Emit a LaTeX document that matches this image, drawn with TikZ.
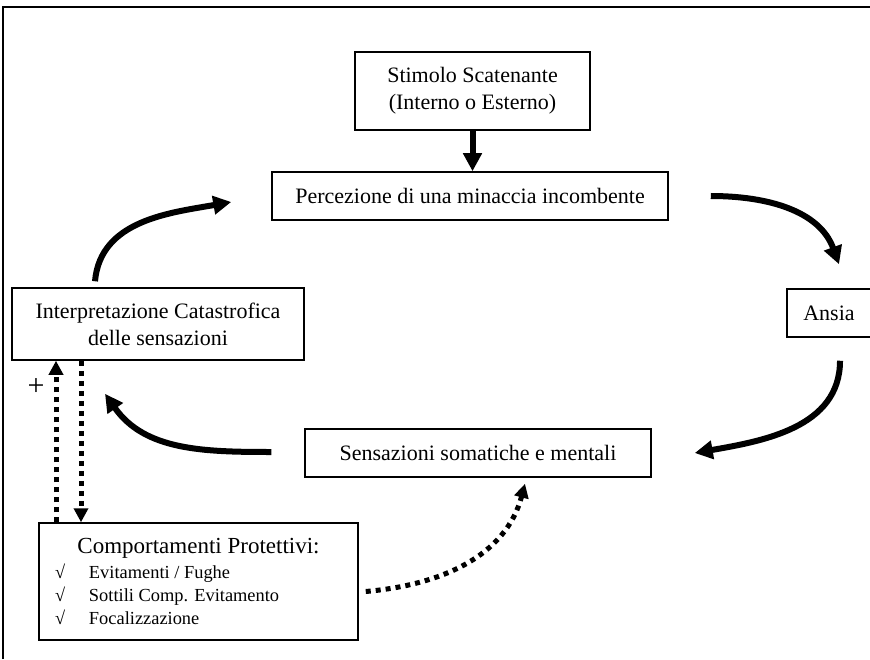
\documentclass[tikz,border=0pt]{standalone}
\usepackage{fontspec}
\setmainfont{Liberation Serif}
\usepackage{tikz}
\usetikzlibrary{arrows.meta}

\begin{document}
\begin{tikzpicture}[x=0.5pt, y=0.5pt,
    box/.style={draw, line width=0.75pt, inner sep=2pt, align=center,
        font=\fontsize{11}{13.5}\selectfont},
    bigarrow/.style={line width=3pt, -{Triangle[length=9pt,width=9pt]}},
    dotarrow/.style={line width=2.5pt, dash pattern=on 2.5pt off 2.5pt,
        -{Triangle[length=7pt,width=7pt]}}]
        \useasboundingbox (0,0) rectangle (870,659);
        \clip (0,0) rectangle (870,659);
        \draw[line width=1pt] (3,0) -- (3,652) -- (875,652);

        \node[box, minimum width=117.5pt, minimum height=39pt] (stimolo) at (472.5,568) {Stimolo Scatenante\\(Interno o Esterno)};
        \node[box, minimum width=198pt, minimum height=24pt] (percezione) at (470,463) {Percezione di una minaccia incombente};
        \node[box, minimum width=42pt, minimum height=24pt] (ansia) at (829,346) {Ansia};
        \node[box, minimum width=173pt, minimum height=24pt] (sensazioni) at (478,206) {Sensazioni somatiche e mentali};
        \node[box, minimum width=146pt, minimum height=36pt] (interpretazione) at (158,335) {Interpretazione Catastrofica\\delle sensazioni};
        \node[box, inner xsep=8pt, minimum width=159.5pt, minimum height=58.5pt] (comportamenti) at (198.5,77.5)
            {\parbox{143.5pt}{\centering\fontsize{11.5}{13.5}\selectfont Comportamenti Protettivi:\par\vspace{1pt}
            \raggedright\fontsize{9.2}{11.5}\selectfont
            \makebox[17pt][l]{√}Evitamenti / Fughe\par
            \makebox[17pt][l]{√}Sottili Comp. Evitamento\par
            \makebox[17pt][l]{√}Focalizzazione}};
        \node[font=\fontsize{15}{17}\selectfont] (piu) at (36,272) {+};

        % ciclo del panico
        \draw[bigarrow] (stimolo.south) -- (stimolo.south |- percezione.north);
        \draw[bigarrow] ([shift={(42,0)}]percezione.east) to[out=0,in=110] ([shift={(10,24)}]ansia.north);
        \draw[bigarrow] ([shift={(11,-23)}]ansia.south) to[out=-90,in=10] ([shift={(43,0)}]sensazioni.east);
        \draw[bigarrow] ([shift={(-33,1)}]sensazioni.west) to[out=180,in=-55] ([shift={(-53,-33)}]interpretazione.south);
        \draw[bigarrow] ([shift={(-63,6)}]interpretazione.north) to[out=85,in=190] ([shift={(-40,-6)}]percezione.west);

        % comportamenti protettivi
        \draw[dotarrow] (56,0 |- comportamenti.north) -- (56,0 |- interpretazione.south);
        \draw[dotarrow] (81,0 |- interpretazione.south) -- (81,0 |- comportamenti.north);
        \draw[dotarrow] ([shift={(7,-10)}]comportamenti.east) to[out=5,in=-105] ([shift={(47,-6)}]sensazioni.south);
\end{tikzpicture}
\end{document}
